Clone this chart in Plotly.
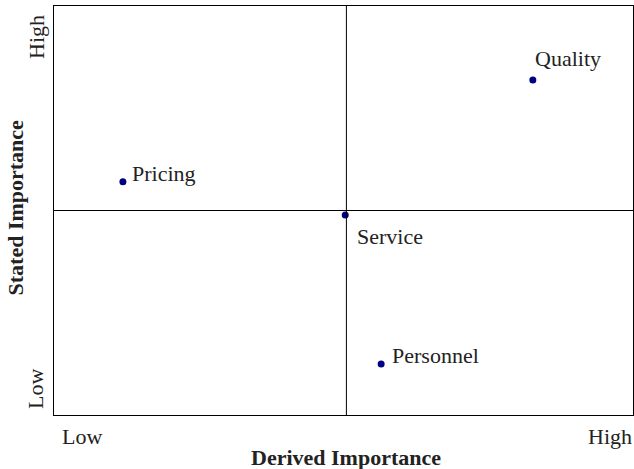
import plotly.graph_objects as go

# facteurs et positions (importance dérivée / déclarée, échelle 0-10)
factors = ["Quality", "Pricing", "Service", "Personnel"]
derived = [8.27, 1.19, 5.03, 5.65]
stated = [8.19, 5.70, 4.89, 1.25]
# décalage des étiquettes par rapport au point (pixels)
label_dx = [0, 7, 10, 9]
label_dy = [22, 8, -21, 8]

tick_text = ["Low", "High"]
split_x = 5.05
split_y = 5.0

font = "Liberation Serif, Times New Roman, serif"
txt = {"family": font, "size": 22, "color": "#222"}

fig = go.Figure()
fig.add_trace(go.Scatter(
    x=derived, y=stated, mode="markers",
    marker={"color": "#000080", "size": 7}, text=factors, hoverinfo="text", showlegend=False,
))

# les deux lignes qui séparent les quadrants
fig.add_shape(type="line", x0=split_x, x1=split_x, y0=0, y1=10, line={"color": "black", "width": 1})
fig.add_shape(type="line", x0=0, x1=10, y0=split_y, y1=split_y, line={"color": "black", "width": 1})

notes = []
for name, x, y, dx, dy in zip(factors, derived, stated, label_dx, label_dy):
    notes.append(dict(x=x, y=y, text=name, showarrow=False, xanchor="left", yanchor="middle",
                      xshift=dx, yshift=dy, font=txt))

# libellés bas / haut des axes
paper = {"xref": "paper", "yref": "paper", "showarrow": False, "font": txt,
         "xanchor": "center", "yanchor": "middle"}
notes += [
    dict(paper, x=0, y=0, text=tick_text[0], xshift=28, yshift=-21),
    dict(paper, x=1, y=0, text=tick_text[1], xanchor="right", xshift=1, yshift=-21),
    dict(paper, x=0, y=0, text=tick_text[0], textangle=-90, xshift=-19, yshift=26),
    dict(paper, x=0, y=1, text=tick_text[1], textangle=-90, xshift=-18, yshift=-31),
    dict(paper, x=0.5, y=0, text="<b>Derived Importance</b>", xshift=2, yshift=-42),
    dict(paper, x=0, y=0.5, text="<b>Stated Importance</b>", textangle=-90, xshift=-39, yshift=3),
]

axis = {"showgrid": False, "zeroline": False, "showline": True, "linecolor": "black",
        "linewidth": 1, "mirror": True, "ticks": "", "range": [0, 10],
        "showticklabels": False, "automargin": False}

fig.update_layout(
    width=634, height=469,
    margin={"l": 54, "r": 1, "t": 6, "b": 54},
    paper_bgcolor="white", plot_bgcolor="white",
    xaxis=axis, yaxis=axis, annotations=notes,
)

# la page html a une marge de 8px par défaut : on la retire, et pas de barre d'outils
fig.write_html("out.html", config={"displayModeBar": False},
               post_script="document.body.style.margin='0';")
